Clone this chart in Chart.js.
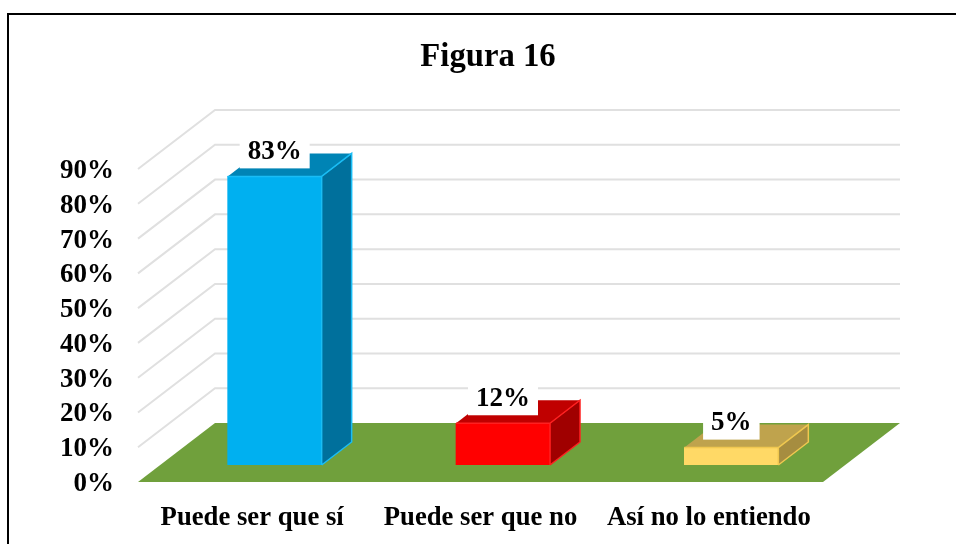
<!DOCTYPE html>
<html>
<head>
<meta charset="utf-8">
<style>
  body { margin: 0; background: #fff; }
  #wrap { position: relative; width: 956px; height: 544px; overflow: hidden; }
  #frame { position: absolute; left: 7px; top: 13px; right: 0; bottom: 0; border-left: 2px solid #000; border-top: 2px solid #000; }
  canvas { position: absolute; left: 0; top: 0; }
</style>
<script src="https://cdn.jsdelivr.net/npm/chart.js@4"></script>
</head>
<body>
<div id="wrap">
  <div id="frame"></div>
  <canvas id="myChart" width="956" height="544"></canvas>
</div>
<script>
const categories = ['Puede ser que sí', 'Puede ser que no', 'Así no lo entiendo'];
const values = [83, 12, 5];
const frontColors = ['#00b0f0', '#ff0000', '#ffd966'];
const topColors = ['#0084b5', '#c00000', '#bfa34d'];
const sideColors = ['#00709c', '#a00000', '#a68d40'];
const edgeColors = ['#19bdf5', '#ff2020', '#f0c850'];

const SERIF = '"Liberation Serif", "Times New Roman", serif';
// depth of the fake 3d box
const wall = { x: 77, y: -59 };
const barFront = { x: 22.5, y: -17 };
const barDepth = { x: 30, y: -23 };

const poly = (ctx, pts, fill) => {
    ctx.beginPath();
    pts.forEach((p, i) => i ? ctx.lineTo(p[0], p[1]) : ctx.moveTo(p[0], p[1]));
    ctx.closePath();
    ctx.fillStyle = fill;
    ctx.fill();
};

const box3d = {
    id: 'box3d',
    beforeDatasetsDraw(chart) {
        const { ctx, chartArea: area, scales: { y } } = chart;
        // left wall and back wall lines
        ctx.save();
        ctx.strokeStyle = '#e0e0e0';
        ctx.lineWidth = 2;
        y.ticks.forEach(t => {
            if (t.value === 0) return;
            const py = y.getPixelForValue(t.value);
            ctx.beginPath();
            ctx.moveTo(area.left, py);
            ctx.lineTo(area.left + wall.x, py + wall.y);
            ctx.lineTo(area.right + wall.x, py + wall.y);
            ctx.stroke();
        });
        ctx.restore();
        // floor
        poly(ctx, [
            [area.left, area.bottom],
            [area.right, area.bottom],
            [area.right + wall.x, area.bottom + wall.y],
            [area.left + wall.x, area.bottom + wall.y]
        ], '#70a03c');
        // top and side of each bar
        chart.getDatasetMeta(0).data.forEach((bar, i) => {
            const l = bar.x - bar.width / 2 + barFront.x;
            const r = bar.x + bar.width / 2 + barFront.x;
            const t = bar.y + barFront.y;
            const b = bar.base + barFront.y;
            poly(ctx, [[l, t], [r, t], [r + barDepth.x, t + barDepth.y], [l + barDepth.x, t + barDepth.y]], topColors[i]);
            poly(ctx, [[r, t], [r, b], [r + barDepth.x, b + barDepth.y], [r + barDepth.x, t + barDepth.y]], sideColors[i]);
        });
        // the library draws the front of the bars, shifted into the floor
        ctx.save();
        ctx.translate(barFront.x, barFront.y);
    },
    afterDatasetsDraw(chart) {
        const { ctx } = chart;
        ctx.restore();
        chart.getDatasetMeta(0).data.forEach((bar, i) => {
            const r = bar.x + bar.width / 2 + barFront.x;
            const l = bar.x - bar.width / 2 + barFront.x;
            const t = bar.y + barFront.y;
            const b = bar.base + barFront.y;
            // light edges
            ctx.strokeStyle = edgeColors[i];
            ctx.lineWidth = 1.5;
            ctx.beginPath();
            ctx.moveTo(l, t);
            ctx.lineTo(r, t);
            ctx.lineTo(r, b);
            ctx.moveTo(r, t);
            ctx.lineTo(r + barDepth.x, t + barDepth.y);
            ctx.lineTo(r + barDepth.x, b + barDepth.y);
            ctx.lineTo(r, b);
            ctx.stroke();
            // value label on white
            const text = values[i] + '%';
            ctx.font = 'bold 27px ' + SERIF;
            const w = ctx.measureText(text).width + 16;
            const cx = (l + r) / 2;
            const boxBottom = t - 8;
            ctx.fillStyle = '#fff';
            ctx.fillRect(cx - w / 2, boxBottom - 32, w, 32);
            ctx.fillStyle = '#000';
            ctx.textAlign = 'center';
            ctx.textBaseline = 'middle';
            ctx.fillText(text, cx, boxBottom - 16.5);
        });
    }
};

new Chart(document.getElementById('myChart'), {
    type: 'bar',
    plugins: [box3d],
    data: {
        labels: categories,
        datasets: [{
            data: values,
            backgroundColor: frontColors,
            barThickness: 94
        }]
    },
    options: {
        responsive: false,
        animation: false,
        layout: { padding: { left: 20, right: 0, top: 0, bottom: 0 } },
        plugins: {
            legend: { display: false },
            tooltip: { enabled: false },
            title: {
                display: true,
                text: 'Figura 16',
                color: '#000',
                font: { family: SERIF, size: 32.7, weight: 'bold' },
                padding: { top: 38, bottom: 91.8 }
            }
        },
        scales: {
            x: {
                grid: { display: false },
                border: { display: false },
                afterFit: s => { s.height = 62; },
                ticks: {
                    color: '#000',
                    padding: 12,
                    maxRotation: 0,
                    minRotation: 0,
                    autoSkip: false,
                    font: { family: SERIF, size: 26.7, weight: 'bold' }
                }
            },
            y: {
                min: 0,
                max: 90,
                grid: { display: false },
                border: { display: false },
                afterFit: s => { s.width = 118; },
                ticks: {
                    stepSize: 10,
                    autoSkip: false,
                    color: '#000',
                    padding: 16,
                    labelOffset: 2,
                    font: { family: SERIF, size: 27, weight: 'bold' },
                    callback: v => v + '%'
                }
            },
            // empty axis, only keeps the space right of the floor
            spacer: {
                position: 'right',
                grid: { display: false },
                border: { display: false },
                ticks: { display: false },
                afterFit: s => { s.width = 133; }
            }
        }
    }
});
</script>
</body>
</html>
